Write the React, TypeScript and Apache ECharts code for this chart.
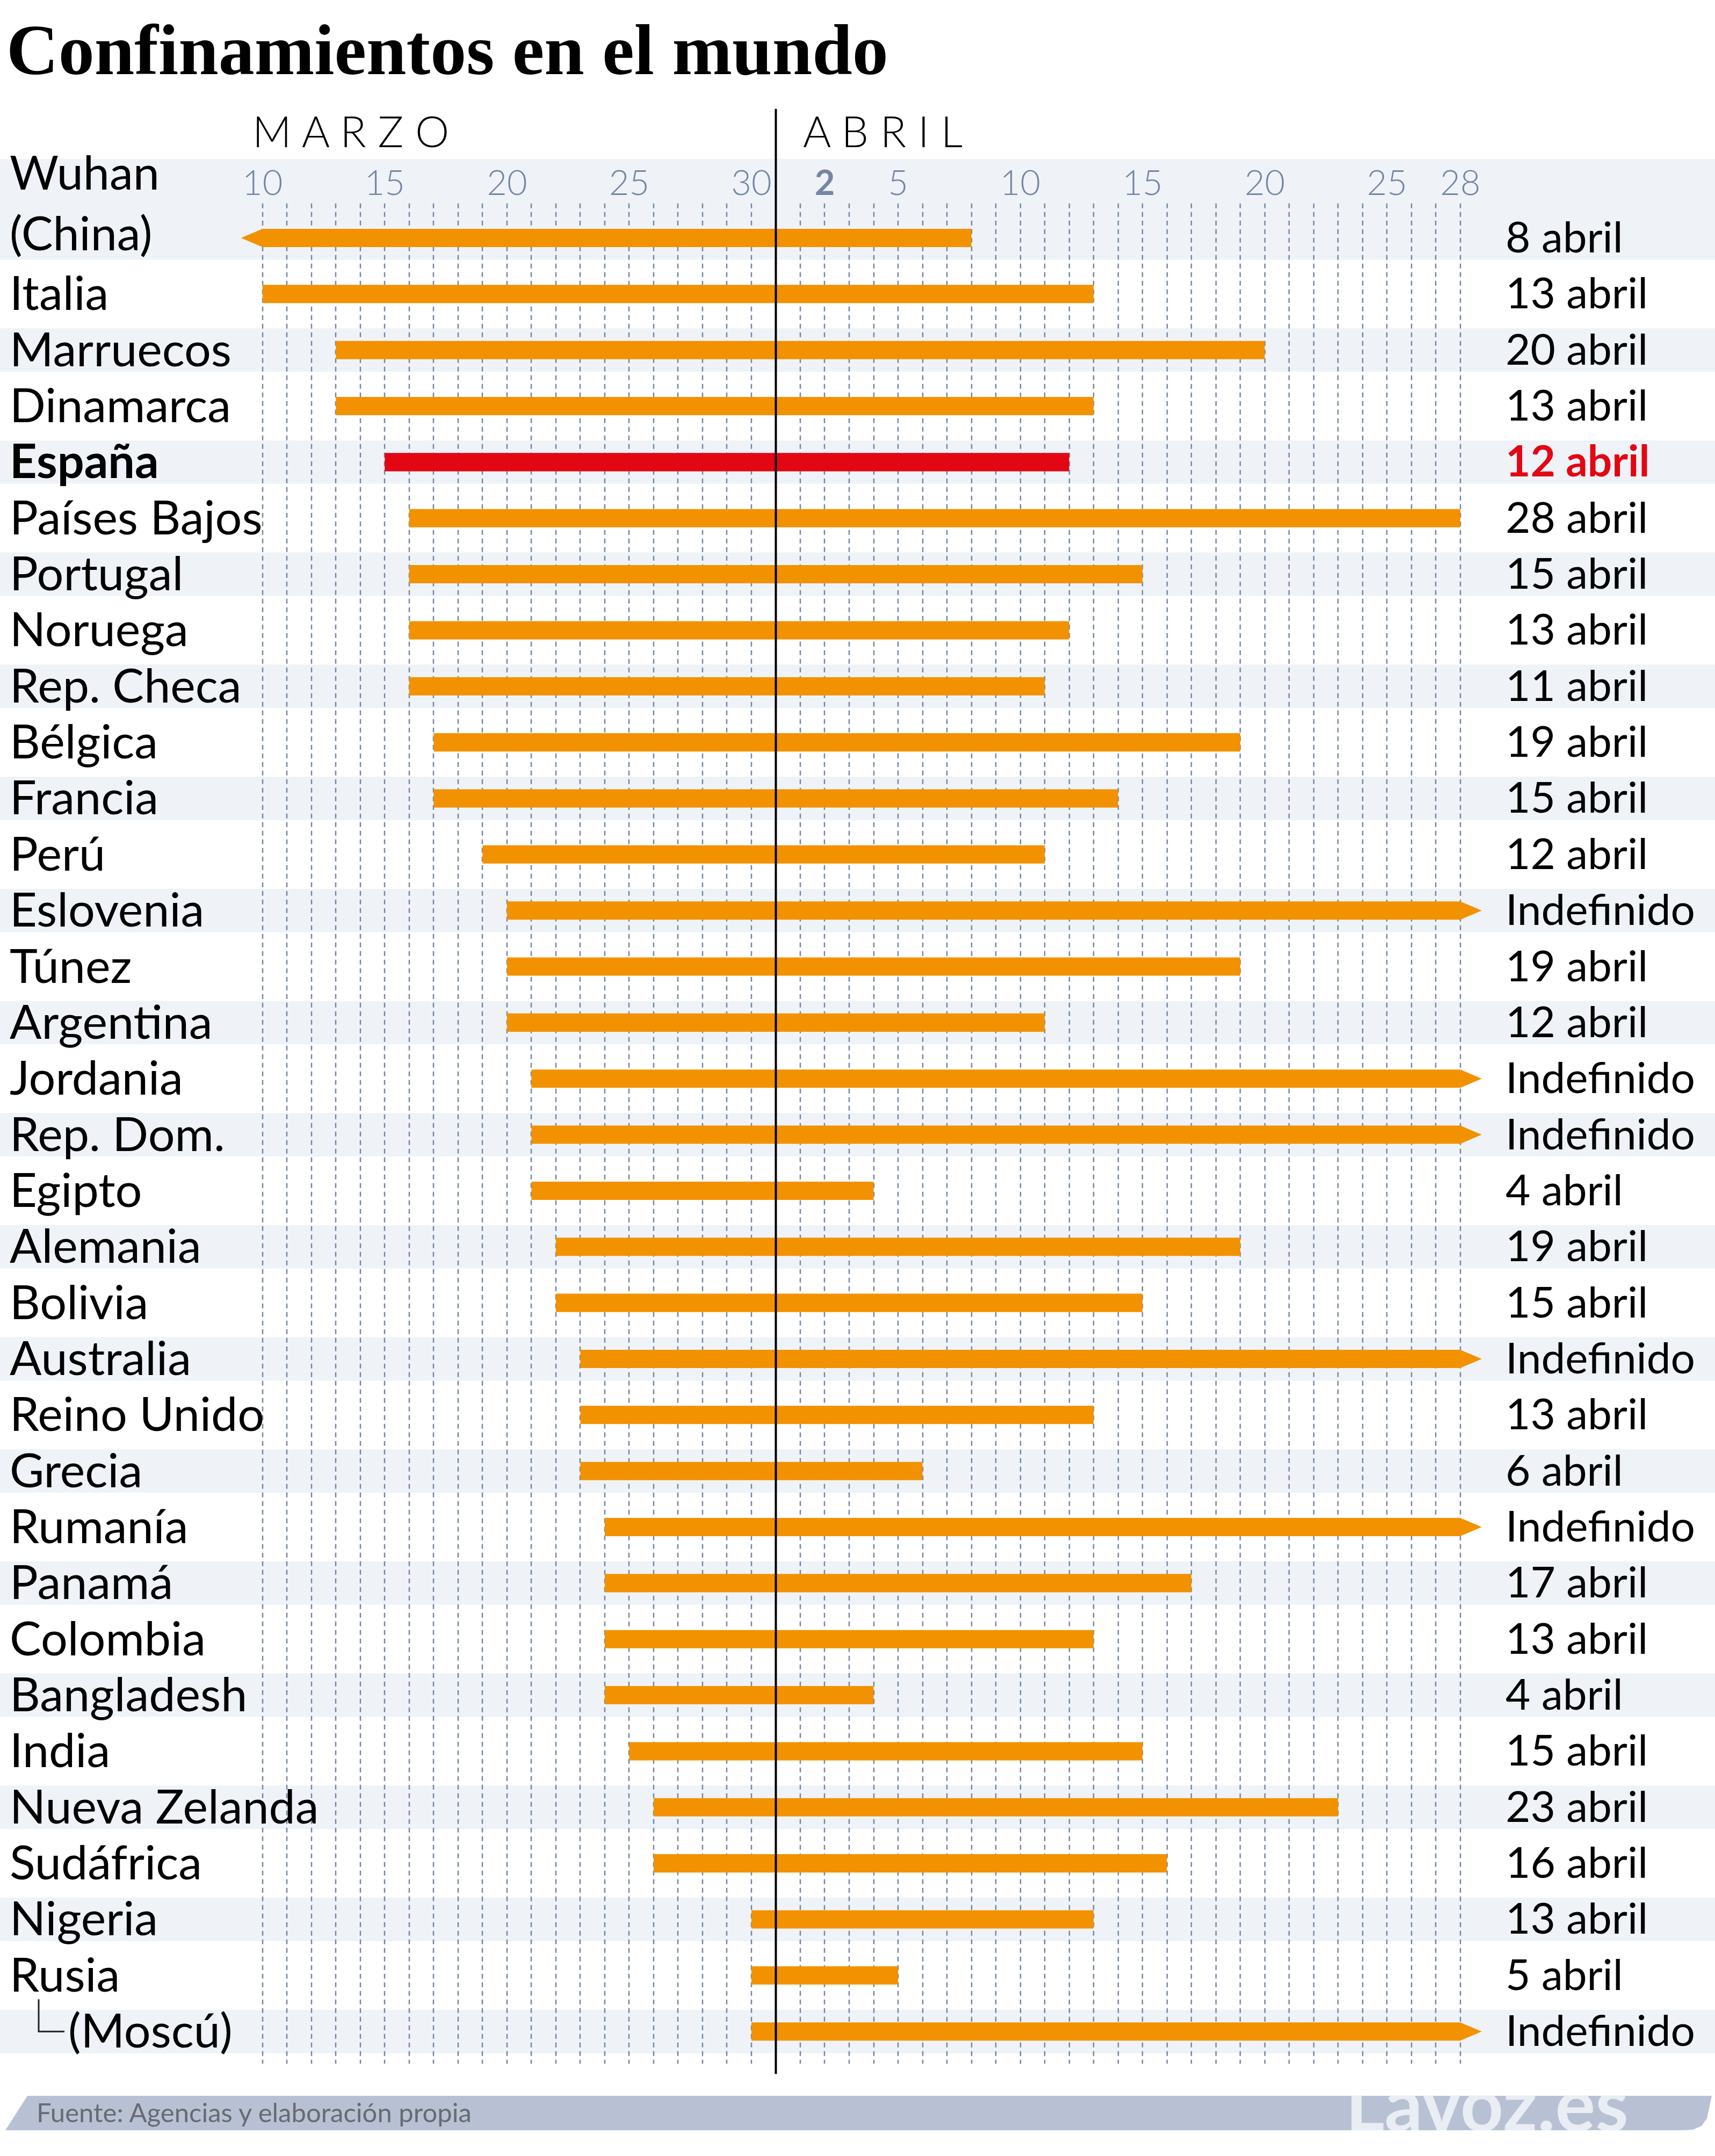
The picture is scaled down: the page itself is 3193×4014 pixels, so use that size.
import React, { useEffect, useRef } from "react";
import * as echarts from "echarts";

// ---------- data ----------
const rowLabels: string[] = [
  "Wuhan\n(China)", "Italia", "Marruecos", "Dinamarca", "España", "Países Bajos", "Portugal",
  "Noruega", "Rep. Checa", "Bélgica", "Francia", "Perú", "Eslovenia", "Túnez", "Argentina",
  "Jordania", "Rep. Dom.", "Egipto", "Alemania", "Bolivia", "Australia", "Reino Unido", "Grecia",
  "Rumanía", "Panamá", "Colombia", "Bangladesh", "India", "Nueva Zelanda", "Sudáfrica", "Nigeria",
  "Rusia", "(Moscú)",
];

// null start = began before the visible range (arrow to the left)
const startDates: (string | null)[] = [
  null, "2020-03-10", "2020-03-13", "2020-03-13", "2020-03-15", "2020-03-16", "2020-03-16",
  "2020-03-16", "2020-03-16", "2020-03-17", "2020-03-17", "2020-03-19", "2020-03-20", "2020-03-20",
  "2020-03-20", "2020-03-21", "2020-03-21", "2020-03-21", "2020-03-22", "2020-03-22", "2020-03-23",
  "2020-03-23", "2020-03-23", "2020-03-24", "2020-03-24", "2020-03-24", "2020-03-24", "2020-03-25",
  "2020-03-26", "2020-03-26", "2020-03-30", "2020-03-30", "2020-03-30",
];

// null end = indefinite (arrow to the right)
const endDates: (string | null)[] = [
  "2020-04-08", "2020-04-13", "2020-04-20", "2020-04-13", "2020-04-12", "2020-04-28", "2020-04-15",
  "2020-04-12", "2020-04-11", "2020-04-19", "2020-04-14", "2020-04-11", null, "2020-04-19",
  "2020-04-11", null, null, "2020-04-04", "2020-04-19", "2020-04-15", null,
  "2020-04-13", "2020-04-06", null, "2020-04-17", "2020-04-13", "2020-04-04", "2020-04-15",
  "2020-04-23", "2020-04-16", "2020-04-13", "2020-04-05", null,
];

const endLabels: string[] = [
  "8 abril", "13 abril", "20 abril", "13 abril", "12 abril", "28 abril", "15 abril",
  "13 abril", "11 abril", "19 abril", "15 abril", "12 abril", "Indefinido", "19 abril",
  "12 abril", "Indefinido", "Indefinido", "4 abril", "19 abril", "15 abril", "Indefinido",
  "13 abril", "6 abril", "Indefinido", "17 abril", "13 abril", "4 abril", "15 abril",
  "23 abril", "16 abril", "13 abril", "5 abril", "Indefinido",
];

const highlightRow = "España";
const childRows = ["(Moscú)"];

const axisStart = "2020-03-10";
const axisEnd = "2020-04-28";
const monthBoundary = "2020-03-31";

const tickDates = [
  "2020-03-10", "2020-03-15", "2020-03-20", "2020-03-25", "2020-03-30",
  "2020-04-02", "2020-04-05", "2020-04-10", "2020-04-15", "2020-04-20", "2020-04-25", "2020-04-28",
];
const tickLabels = ["10", "15", "20", "25", "30", "2", "5", "10", "15", "20", "25", "28"];
const boldTick = "2020-04-02";

const monthLabels = ["M A R Z O", "A B R I L"];
const title = "Confinamientos en el mundo";
const source = "Fuente: Agencias y elaboración propia";
const brand = "Lavoz.es";

// ---------- helpers ----------
const DAY = 86400000;
const dayIndex = (d: string) => Math.round((Date.parse(d) - Date.parse(axisStart)) / DAY);
const X_MAX = dayIndex(axisEnd);

const W = 3193;
const H = 4014;
const FONT = "Lato";
const ORANGE = "#f29200";
const RED = "#e30613";
const BAND = "#eff3f8";
const SLATE = "#7586a3";

function buildOption() {
  const barData = rowLabels.map((_, i) => {
    const s = startDates[i];
    const e = endDates[i];
    return [s ? dayIndex(s) : 0, e ? dayIndex(e) : X_MAX, i, s ? 0 : 1, e ? 0 : 1];
  });
  const rowData = rowLabels.map((_, i) => [0, i]);
  const boundaryIdx = dayIndex(monthBoundary);
  const gridDays: number[][] = [];
  for (let d = 0; d <= X_MAX; d++) if (d !== boundaryIdx) gridDays.push([d, 0]);
  const tickIdx = tickDates.map(dayIndex);
  const boldIdx = dayIndex(boldTick);

  return {
    animation: false,
    backgroundColor: "#ffffff",
    grid: { left: 488.8, right: W - 2718.7, top: 390.8, height: 104.35 * rowLabels.length },
    xAxis: {
      type: "value",
      min: 0,
      max: X_MAX,
      position: "top",
      axisLine: { show: false },
      axisTick: { show: false },
      splitLine: { show: false },
      axisLabel: {
        customValues: tickIdx,
        margin: 20,
        color: SLATE,
        fontFamily: FONT,
        fontWeight: 300,
        fontSize: 65,
        formatter: (v: number) => {
          const k = tickIdx.indexOf(Math.round(v));
          if (k < 0) return "";
          return Math.round(v) === boldIdx ? `{b|${tickLabels[k]}}` : tickLabels[k];
        },
        rich: {
          b: { color: SLATE, fontFamily: FONT, fontWeight: "bold", fontSize: 65 },
        },
      },
    },
    yAxis: { type: "category", data: rowLabels, inverse: true, show: false },
    graphic: [
      {
        type: "text", x: 12, y: 93, z: 10,
        style: {
          text: title, fontFamily: "Liberation Serif", fontWeight: "bold", fontSize: 134,
          fill: "#000", align: "left", verticalAlign: "middle", textAlign: "left", textVerticalAlign: "middle",
        },
      },
      {
        type: "text", x: 470, y: 243, z: 10,
        style: {
          text: monthLabels[0], fontFamily: FONT, fontWeight: 300, fontSize: 80, fill: "#000",
          align: "left", verticalAlign: "middle", textAlign: "left", textVerticalAlign: "middle",
        },
      },
      {
        type: "text", x: 1495, y: 243, z: 10,
        style: {
          text: monthLabels[1], fontFamily: FONT, fontWeight: 300, fontSize: 80, fill: "#000",
          align: "left", verticalAlign: "middle", textAlign: "left", textVerticalAlign: "middle",
        },
      },
      {
        type: "polygon", z: 10,
        shape: {
          points: [[51, 3902], [3187, 3902], [3178, 3944], [3168, 3958], [3152, 3965], [3136, 3966], [10, 3966]],
        },
        style: { fill: "#b8c1d4" },
      },
      {
        type: "text", x: 68, y: 3932, z: 11,
        style: {
          text: source, fontFamily: FONT, fontSize: 49, fill: "#676b72",
          align: "left", verticalAlign: "middle", textAlign: "left", textVerticalAlign: "middle",
        },
      },
      {
        type: "text", x: 2505, y: 3914, z: 11,
        style: {
          text: brand, fontFamily: FONT, fontWeight: "bold", fontSize: 140, fill: "#e9edf4",
          align: "left", verticalAlign: "middle", textAlign: "left", textVerticalAlign: "middle",
        },
      },
      { type: "rect", z: 12, shape: { x: 2300, y: 3864, width: 893, height: 37.5 }, style: { fill: "#ffffff" } },
      { type: "rect", z: 12, shape: { x: 2300, y: 3966, width: 893, height: 48 }, style: { fill: "#ffffff" } },
    ],
    series: [
      {
        type: "custom",
        name: "bands",
        z: 0,
        clip: false,
        silent: true,
        data: rowData,
        encode: { x: 0, y: 1 },
        renderItem: (params: any, api: any) => {
          const i = params.dataIndex;
          if (i % 2 === 1) return { type: "group", children: [] };
          const cy = api.coord([0, i])[1];
          const half = api.size([0, 1])[1] * 0.388;
          const top = i === 0 ? cy - api.size([0, 1])[1] * 1.41 : cy - half;
          return {
            type: "rect",
            shape: { x: 0, y: top, width: api.getWidth(), height: cy + half - top },
            style: { fill: BAND },
          };
        },
      },
      {
        type: "custom",
        name: "gridlines",
        z: 1,
        clip: false,
        silent: true,
        data: gridDays,
        encode: { x: 0, y: 1 },
        renderItem: (params: any, api: any) => {
          const cs = params.coordSys;
          const x = Math.round(api.coord([api.value(0), 0])[0]);
          return {
            type: "line",
            shape: { x1: x, y1: cs.y - 12, x2: x, y2: cs.y + cs.height + 8 },
            style: { stroke: SLATE, lineWidth: 2.5, lineDash: [9, 7] },
          };
        },
      },
      {
        type: "custom",
        name: "confinamientos",
        z: 3,
        clip: false,
        data: barData,
        encode: { x: [0, 1], y: 2 },
        renderItem: (params: any, api: any) => {
          const row = api.value(2);
          const p0 = api.coord([api.value(0), row]);
          const p1 = api.coord([api.value(1), row]);
          const h = api.size([0, 1])[1] * 0.163;
          const tip = api.size([1, 0])[0] * 0.88;
          const pts: number[][] = [];
          pts.push([p0[0], p0[1] - h]);
          pts.push([p1[0], p1[1] - h]);
          if (api.value(4) === 1) pts.push([p1[0] + tip, p1[1]]);
          pts.push([p1[0], p1[1] + h]);
          pts.push([p0[0], p0[1] + h]);
          if (api.value(3) === 1) pts.push([p0[0] - tip, p0[1]]);
          const isHl = rowLabels[row] === highlightRow;
          return { type: "polygon", shape: { points: pts }, style: { fill: isHl ? RED : ORANGE } };
        },
      },
      {
        type: "custom",
        name: "boundary",
        z: 4,
        clip: false,
        silent: true,
        data: [[boundaryIdx, 0]],
        encode: { x: 0, y: 1 },
        renderItem: (params: any, api: any) => {
          const cs = params.coordSys;
          const x = api.coord([api.value(0), 0])[0];
          return {
            type: "line",
            shape: { x1: x, y1: cs.y - 188, x2: x, y2: cs.y + cs.height + 27 },
            style: { stroke: "#000", lineWidth: 4 },
          };
        },
      },
      {
        type: "custom",
        name: "labels",
        z: 5,
        clip: false,
        silent: true,
        data: rowData,
        encode: { x: 0, y: 1 },
        renderItem: (params: any, api: any) => {
          const i = params.dataIndex;
          const cy = api.coord([0, i])[1];
          const name = rowLabels[i];
          const isHl = name === highlightRow;
          const isChild = childRows.indexOf(name) >= 0;
          const multi = name.indexOf("\n") >= 0;
          const children: any[] = [];
          children.push({
            type: "text",
            x: isChild ? 127 : 18,
            y: multi ? cy - 67 : cy - 4,
            style: {
              text: name,
              fontFamily: FONT,
              fontSize: 88,
              fontWeight: isHl ? "bold" : "normal",
              fill: "#000",
              align: "left",
              verticalAlign: "middle",
              lineHeight: 113,
            },
          });
          if (isChild) {
            children.push({
              type: "polyline",
              shape: { points: [[72, cy - 60], [72, cy], [120, cy]] },
              style: { stroke: "#222", lineWidth: 3, fill: null },
            });
          }
          children.push({
            type: "text",
            x: 2803,
            y: cy - 4,
            style: {
              text: endLabels[i],
              fontFamily: FONT,
              fontSize: 80,
              fontWeight: isHl ? "bold" : "normal",
              fill: isHl ? RED : "#000",
              align: "left",
              verticalAlign: "middle",
            },
          });
          return { type: "group", children };
        },
      },
    ],
  };
}

export default function App() {
  const ref = useRef<HTMLDivElement>(null);
  useEffect(() => {
    if (!ref.current) return;
    const chart = echarts.init(ref.current, null, { renderer: "svg" });
    chart.setOption(buildOption() as any);
    return () => chart.dispose();
  }, []);
  return (
    <div
      ref={ref}
      style={{ position: "absolute", left: 0, top: 0, width: W, height: H, background: "#fff" }}
    />
  );
}
